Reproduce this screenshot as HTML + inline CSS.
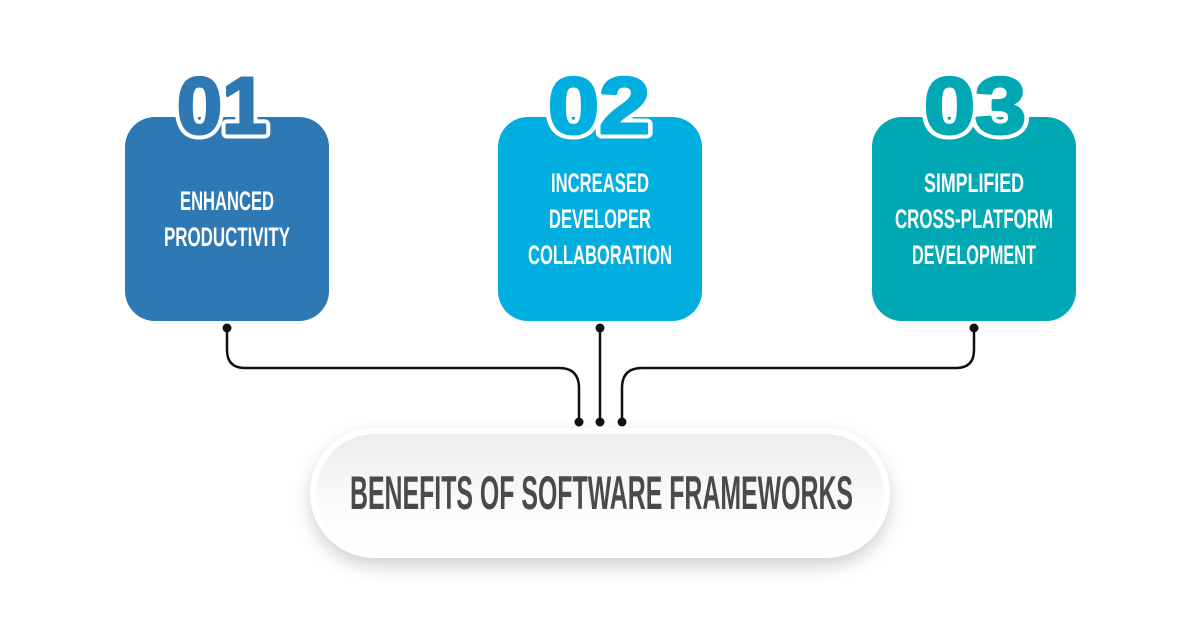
<!DOCTYPE html>
<html><head><meta charset="utf-8"><style>
html,body{margin:0;padding:0;background:#fff;}
svg{display:block;}
</style></head><body>
<svg width="1200" height="628" viewBox="0 0 1200 628" xmlns="http://www.w3.org/2000/svg">
<defs>
<filter id="sh" x="-10%" y="-30%" width="120%" height="170%">
<feDropShadow dx="0" dy="8" stdDeviation="9" flood-color="#000" flood-opacity="0.18"/>
</filter>
<linearGradient id="pg" x1="0" y1="0" x2="0" y2="1">
<stop offset="0" stop-color="#ececec"/><stop offset="0.6" stop-color="#fbfbfb"/><stop offset="1" stop-color="#ffffff"/>
</linearGradient>
</defs>
<g fill="none" stroke="#111" stroke-width="2.5">
<path d="M227 328 V350 Q227 368 245 368 H559 Q579 368 579 388 V422"/>
<path d="M600 328 V422"/>
<path d="M974 328 V350 Q974 368 956 368 H642 Q622 368 622 388 V422"/>
</g>
<g fill="#111">
<circle cx="227" cy="328" r="4.5"/><circle cx="600" cy="328" r="4.5"/><circle cx="974" cy="328" r="4.5"/>
<circle cx="579" cy="422" r="4.5"/><circle cx="600" cy="422" r="4.5"/><circle cx="622" cy="422" r="4.5"/>
</g>
<rect x="310" y="428" width="580" height="130" rx="65" fill="#fff" filter="url(#sh)"/>
<rect x="316" y="434" width="568" height="118" rx="59" fill="url(#pg)"/>
<text x="350" y="509" font-family="Liberation Sans, sans-serif" font-weight="bold" font-size="47" fill="#4a4a4a" textLength="503" lengthAdjust="spacingAndGlyphs">BENEFITS OF SOFTWARE FRAMEWORKS</text>

<rect x="125" y="117" width="204" height="204" rx="30" fill="#2e78b4"/>
<rect x="498" y="117" width="204" height="204" rx="30" fill="#00aee0"/>
<rect x="872" y="117" width="204" height="204" rx="30" fill="#00a8b4"/>

<g font-family="Liberation Sans, sans-serif" font-weight="bold" font-size="80" stroke-linejoin="round">
<text x="177" y="133" fill="#fff" stroke="#fff" stroke-width="11" textLength="90" lengthAdjust="spacingAndGlyphs">01</text>
<text x="177" y="133" fill="#2e78b4" stroke="#2e78b4" stroke-width="3" textLength="90" lengthAdjust="spacingAndGlyphs">01</text>
<text x="548" y="133" fill="#fff" stroke="#fff" stroke-width="11" textLength="102" lengthAdjust="spacingAndGlyphs">02</text>
<text x="548" y="133" fill="#00aee0" stroke="#00aee0" stroke-width="3" textLength="102" lengthAdjust="spacingAndGlyphs">02</text>
<text x="924" y="133" fill="#fff" stroke="#fff" stroke-width="11" textLength="102" lengthAdjust="spacingAndGlyphs">03</text>
<text x="924" y="133" fill="#00a8b4" stroke="#00a8b4" stroke-width="3" textLength="102" lengthAdjust="spacingAndGlyphs">03</text>
</g>

<g font-family="Liberation Sans, sans-serif" font-weight="bold" font-size="27" fill="#fff" text-anchor="middle">
<text x="227" y="210" textLength="94" lengthAdjust="spacingAndGlyphs">ENHANCED</text>
<text x="227" y="246" textLength="126" lengthAdjust="spacingAndGlyphs">PRODUCTIVITY</text>
<text x="600" y="192" textLength="98" lengthAdjust="spacingAndGlyphs">INCREASED</text>
<text x="600" y="228" textLength="102" lengthAdjust="spacingAndGlyphs">DEVELOPER</text>
<text x="600" y="264" textLength="144" lengthAdjust="spacingAndGlyphs">COLLABORATION</text>
<text x="974" y="192" textLength="100" lengthAdjust="spacingAndGlyphs">SIMPLIFIED</text>
<text x="974" y="228" textLength="158" lengthAdjust="spacingAndGlyphs">CROSS-PLATFORM</text>
<text x="974" y="264" textLength="124" lengthAdjust="spacingAndGlyphs">DEVELOPMENT</text>
</g>
</svg>
</body></html>
